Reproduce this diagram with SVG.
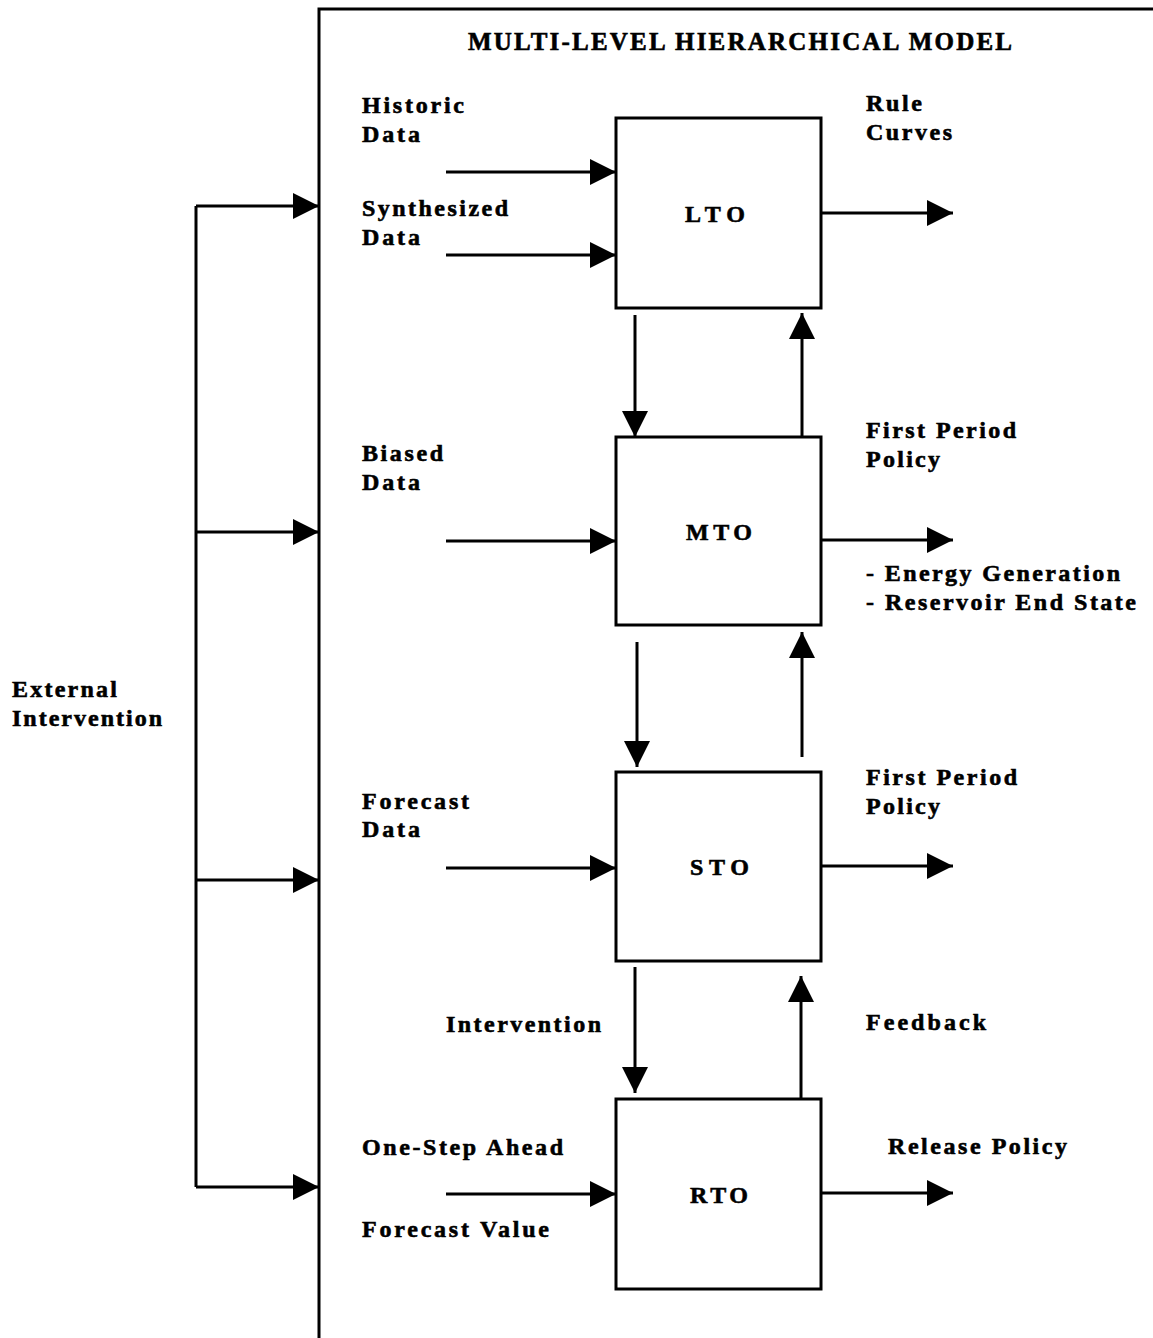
<svg xmlns="http://www.w3.org/2000/svg" width="1153" height="1338" viewBox="0 0 1153 1338">
<style>
.t{font-family:"Liberation Serif","Times New Roman",serif;font-weight:bold;font-size:24px;fill:#000;stroke:#000;stroke-width:0.6}
.title{font-size:25px}
.box{fill:#fff;stroke:#000;stroke-width:3}
.c{stroke:#000;stroke-width:3;fill:none;marker-end:url(#ah)}
.ln{stroke:#000;stroke-width:3;fill:none}
</style>
<defs>
<marker id="ah" markerUnits="userSpaceOnUse" markerWidth="26" markerHeight="26" refX="26" refY="13" orient="auto">
<path d="M0,0 L26,13 L0,26 z" fill="#000"/>
</marker>
</defs>
<rect width="1153" height="1338" fill="#fff"/>
<g id="frame">
<path class="ln" d="M319,1338 L319,9 L1153,9"/>
<text class="t title" x="468" y="50" textLength="544" lengthAdjust="spacing">MULTI-LEVEL HIERARCHICAL MODEL</text>
</g>
<g id="connectors">
<path class="ln" d="M196,206 L196,1187"/>
<line class="c" x1="196" y1="206" x2="319" y2="206"/>
<line class="c" x1="196" y1="532" x2="319" y2="532"/>
<line class="c" x1="196" y1="880" x2="319" y2="880"/>
<line class="c" x1="196" y1="1187" x2="319" y2="1187"/>
<line class="c" x1="446" y1="172" x2="616" y2="172"/>
<line class="c" x1="446" y1="255" x2="616" y2="255"/>
<line class="c" x1="446" y1="541" x2="616" y2="541"/>
<line class="c" x1="446" y1="868" x2="616" y2="868"/>
<line class="c" x1="446" y1="1194" x2="616" y2="1194"/>
<line class="c" x1="821" y1="213" x2="953" y2="213"/>
<line class="c" x1="821" y1="540" x2="953" y2="540"/>
<line class="c" x1="821" y1="866" x2="953" y2="866"/>
<line class="c" x1="821" y1="1193" x2="953" y2="1193"/>
<line class="c" x1="635" y1="315" x2="635" y2="437"/>
<line class="c" x1="802" y1="437" x2="802" y2="313"/>
<line class="c" x1="637" y1="642" x2="637" y2="767"/>
<line class="c" x1="802" y1="757" x2="802" y2="632"/>
<line class="c" x1="635" y1="967" x2="635" y2="1093"/>
<line class="c" x1="801" y1="1099" x2="801" y2="976"/>
</g>
<g id="LTO">
<rect class="box" x="616" y="118" width="205" height="190"/>
<text class="t" x="685" y="222" textLength="60" lengthAdjust="spacing">LTO</text>
</g>
<g id="MTO">
<rect class="box" x="616" y="437" width="205" height="188"/>
<text class="t" x="686" y="540" textLength="66" lengthAdjust="spacing">MTO</text>
</g>
<g id="STO">
<rect class="box" x="616" y="772" width="205" height="189"/>
<text class="t" x="690" y="875" textLength="59" lengthAdjust="spacing">STO</text>
</g>
<g id="RTO">
<rect class="box" x="616" y="1099" width="205" height="190"/>
<text class="t" x="690" y="1203" textLength="58" lengthAdjust="spacing">RTO</text>
</g>
<g id="labels">
<text class="t" x="12" y="697" textLength="105" lengthAdjust="spacing">External</text>
<text class="t" x="12" y="726" textLength="150" lengthAdjust="spacing">Intervention</text>
<text class="t" x="362" y="113" textLength="102" lengthAdjust="spacing">Historic</text>
<text class="t" x="362" y="142" textLength="58" lengthAdjust="spacing">Data</text>
<text class="t" x="362" y="216" textLength="146" lengthAdjust="spacing">Synthesized</text>
<text class="t" x="362" y="245" textLength="58" lengthAdjust="spacing">Data</text>
<text class="t" x="866" y="111" textLength="56" lengthAdjust="spacing">Rule</text>
<text class="t" x="866" y="140" textLength="86" lengthAdjust="spacing">Curves</text>
<text class="t" x="362" y="461" textLength="81" lengthAdjust="spacing">Biased</text>
<text class="t" x="362" y="490" textLength="58" lengthAdjust="spacing">Data</text>
<text class="t" x="866" y="438" textLength="150" lengthAdjust="spacing">First Period</text>
<text class="t" x="866" y="467" textLength="74" lengthAdjust="spacing">Policy</text>
<text class="t" x="866" y="581" textLength="254" lengthAdjust="spacing">- Energy Generation</text>
<text class="t" x="866" y="610" textLength="270" lengthAdjust="spacing">- Reservoir End State</text>
<text class="t" x="362" y="809" textLength="107" lengthAdjust="spacing">Forecast</text>
<text class="t" x="362" y="837" textLength="58" lengthAdjust="spacing">Data</text>
<text class="t" x="866" y="785" textLength="151" lengthAdjust="spacing">First Period</text>
<text class="t" x="866" y="814" textLength="74" lengthAdjust="spacing">Policy</text>
<text class="t" x="446" y="1032" textLength="155" lengthAdjust="spacing">Intervention</text>
<text class="t" x="866" y="1030" textLength="120" lengthAdjust="spacing">Feedback</text>
<text class="t" x="362" y="1155" textLength="201" lengthAdjust="spacing">One-Step Ahead</text>
<text class="t" x="362" y="1237" textLength="187" lengthAdjust="spacing">Forecast Value</text>
<text class="t" x="888" y="1154" textLength="179" lengthAdjust="spacing">Release Policy</text>
</g>
</svg>
